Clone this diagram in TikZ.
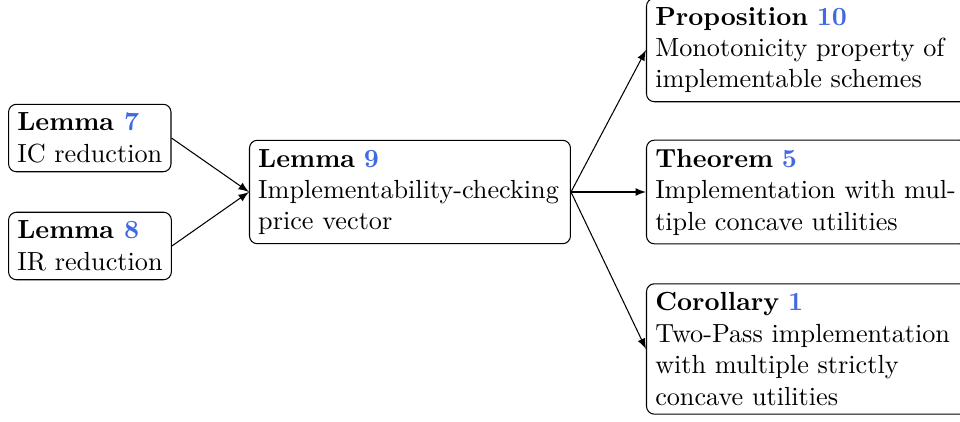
\documentclass[tikz,border=0pt]{standalone}
\usetikzlibrary{arrows}
\definecolor{refblue}{RGB}{65,105,225}
\newcommand{\refnum}[1]{\textcolor{refblue}{#1}}
\begin{document}
\begin{tikzpicture}[
    box/.style={draw, rounded corners=3pt, align=left},
    widebox/.style={box, text width=4.07cm},
    resbox/.style={widebox, anchor=west},
    arrow/.style={-latex},
]
\useasboundingbox (-5.498, -3.071) rectangle (7.376, 2.575);

% Left lemmas
\node[box, anchor=west] (lemIC) at (-5.39, 0.724) {\textbf{Lemma \refnum{7}}\\IC reduction};
\node[box, anchor=west] (lemIR) at (-5.39, -0.724) {\textbf{Lemma \refnum{8}}\\IR reduction};

% Central lemma
\node[widebox] (lemPrice) at (0, 0) {\textbf{Lemma \refnum{9}}\\Implementability-checking price vector};
\draw[arrow] (lemIC.east) -- (lemPrice.west);
\draw[arrow] (lemIR.east) -- (lemPrice.west);

% Results
\node[resbox] (propMono) at (3.165, 1.904) {\textbf{Proposition \refnum{10}}\\Monotonicity property of implementable schemes};
\node[resbox] (thmConc) at (3.165, 0) {\textbf{Theorem \refnum{5}}\\Implementation with multiple concave utilities};
\node[resbox] (corTwo) at (3.165, -2.105) {\textbf{Corollary \refnum{1}}\\Two-Pass implementation\\with multiple strictly\\concave utilities};
\draw[arrow] (lemPrice.east) -- (propMono.west);
\draw[arrow] (lemPrice.east) -- (thmConc.west);
\draw[arrow] (lemPrice.east) -- (corTwo.west);

\end{tikzpicture}
\end{document}
